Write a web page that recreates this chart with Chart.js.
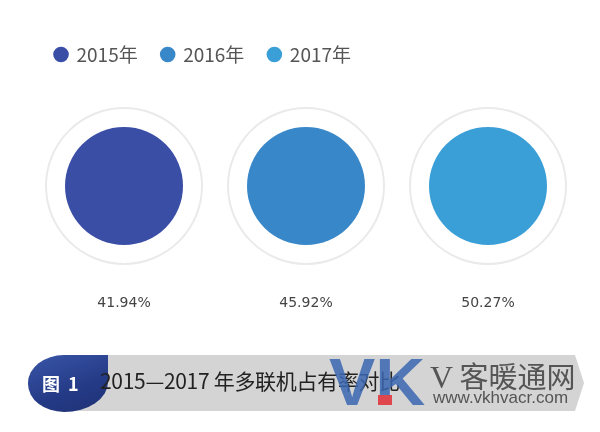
<!DOCTYPE html>
<html>
<head>
<meta charset="utf-8">
<script src="https://cdn.jsdelivr.net/npm/chart.js@4"></script>
<style>
  html, body { margin: 0; padding: 0; background: #fff; }
  #wrap { position: relative; width: 600px; height: 432px; overflow: hidden; }
  #wrap canvas { position: absolute; left: 0; top: 0; }
  .band { position: absolute; left: 75px; top: 355px; width: 500px; height: 56px; background: #d4d4d4; }
  .tip { position: absolute; left: 575px; top: 355px; width: 0; height: 0;
         border-top: 28px solid transparent; border-bottom: 28px solid transparent; border-left: 9px solid #d4d4d4; }
  .badge { position: absolute; left: 28px; top: 355px; width: 80px; height: 57px;
           background: linear-gradient(160deg, #3a56a8 0%, #243a86 60%, #1f3275 100%);
           border-radius: 36px 0 44px 36px / 28px 0 30px 28px; }
  .badge span { position: absolute; left: 14px; top: 15px; color: #fff; font: bold 18px "Noto Sans CJK SC", sans-serif; word-spacing: 4px; }
  .title { position: absolute; left: 100px; top: 365px; color: #222; font: 21px "Noto Sans CJK SC", sans-serif; letter-spacing: -0.3px; }
  .vk { position: absolute; left: 329px; top: 344px; color: rgba(58, 102, 178, 0.85); font: bold 66px "Liberation Sans", sans-serif;
        transform: scaleX(1.05); transform-origin: left top; }
  .vkdot { position: absolute; left: 378px; top: 395px; width: 14px; height: 10px; background: #e0464e; }
  .vkname { position: absolute; left: 430px; top: 354px; color: #555; font: 29px "Noto Sans CJK SC", sans-serif; }
  .vkname b { font: 32px "Liberation Serif", serif; font-weight: normal; }
  .vkurl { position: absolute; left: 433px; top: 388px; color: #555; font: 17px "Liberation Sans", sans-serif; }
</style>
</head>
<body>
<div id="wrap">
  <canvas id="chart"></canvas>
  <div class="band"></div>
  <div class="tip"></div>
  <div class="badge"><span>图 1</span></div>
  <div class="title">2015—2017 年多联机占有率对比</div>
  <div class="vk">VK</div>
  <div class="vkdot"></div>
  <div class="vkname"><b>V</b> 客暖通网</div>
  <div class="vkurl">www.vkhvacr.com</div>
</div>
<script>
const years = ["2015年", "2016年", "2017年"];
const shares = [41.94, 45.92, 50.27];
const colors = ["#3a4ea6", "#3887c9", "#3a9ed7"];

// percentages under each circle
const shareLabels = {
    id: "shareLabels",
    afterDatasetsDraw(chart) {
        const ctx = chart.ctx;
        ctx.save();
        ctx.font = '14px "DejaVu Sans", sans-serif';
        ctx.fillStyle = "#444";
        ctx.textAlign = "center";
        ctx.textBaseline = "middle";
        years.forEach((y, i) => {
            const pt = chart.getDatasetMeta(i).data[0];
            ctx.fillText(shares[i].toFixed(2) + "%", pt.x, pt.y + 117);
        });
        ctx.restore();
    },
};

const datasets = years.map((y, i) => ({
    label: y,
    data: [{ x: i, y: 0, r: 59 }],
    backgroundColor: colors[i],
    borderWidth: 0,
    order: 0,
}));

datasets.push({
    label: "ring",
    data: years.map((y, i) => ({ x: i, y: 0, r: 78 })),
    backgroundColor: "rgba(0,0,0,0)",
    borderColor: "#eaeaea",
    borderWidth: 2,
    order: 1,
});

new Chart(document.querySelector("#chart"), {
    type: "bubble",
    data: { datasets: datasets },
    options: {
        responsive: true,
        maintainAspectRatio: false,
        animation: false,
        events: [],
        clip: false,
        layout: { autoPadding: false, padding: { left: 31, right: 21, top: 21, bottom: 134 } },
        scales: {
            x: { display: false, min: -0.511, max: 2.5 },
            y: { display: false, min: -1, max: 1 },
        },
        plugins: {
            tooltip: { enabled: false },
            legend: {
                position: "top",
                align: "start",
                labels: {
                    usePointStyle: true,
                    pointStyle: "circle",
                    boxWidth: 12,
                    boxHeight: 11,
                    padding: 24,
                    color: "#555",
                    font: { family: '"Noto Sans CJK SC", sans-serif', size: 19 },
                    filter: (item) => item.text !== "ring",
                },
            },
        },
    },
    plugins: [shareLabels],
});
</script>
</body>
</html>
